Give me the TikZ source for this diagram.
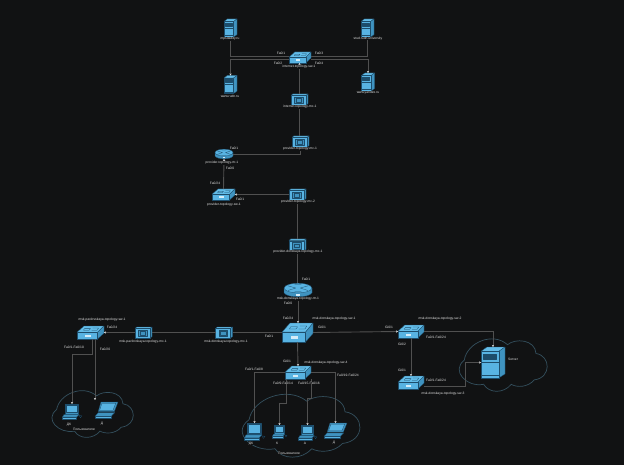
\documentclass[tikz,border=0pt]{standalone}
\usepackage{fontspec}
\setmainfont{Liberation Sans}
\usepackage{xcolor}
\usepackage{tikz}
\usetikzlibrary{arrows.meta,calc}

\definecolor{bgdark}{HTML}{111213}
\definecolor{iconfront}{HTML}{58B3E2}
\definecolor{icontop}{HTML}{63BCE8}
\definecolor{iconside}{HTML}{3F93C0}
\definecolor{iconline}{HTML}{1D4D6B}
\definecolor{linkgrey}{HTML}{505050}
\definecolor{cloudline}{HTML}{34505E}
\definecolor{textgrey}{HTML}{E2E2E2}

\tikzset{
	icon_box/.style={inner sep=0pt, outer sep=0pt, draw=none, fill=none},
	icon_part/.style={draw=iconline, line width=.3pt, line join=round},
}

% icons: name, centre x, centre y, width, height
\newcommand{\servericon}[5]{
	\node (#1) [icon_box, minimum width=#4pt, minimum height=#5pt] at (#2,#3) {};
	\begin{scope}[shift={(#1.north west)},x=#4pt,y=-#5pt]
		\fill [icon_part, fill=icontop] (0,.14) -- (.25,0) -- (1,0) -- (.74,.14) -- cycle;
		\fill [icon_part, fill=iconside] (.74,.14) -- (1,0) -- (1,.87) -- (.74,1) -- cycle;
		\fill [icon_part, fill=iconfront] (0,.14) rectangle (.74,1);
		\fill [icon_part, fill=iconline] (.08,.22) rectangle (.62,.38);
		\draw [icon_part] (0,.5) -- (.74,.5) (0,.9) -- (.74,.9);
	\end{scope}
}
\newcommand{\switchicon}[5]{
	\node (#1) [icon_box, minimum width=#4pt, minimum height=#5pt] at (#2,#3) {};
	\begin{scope}[shift={(#1.north west)},x=#4pt,y=-#5pt]
		\fill [icon_part, fill=icontop] (0,.48) -- (.26,0) -- (1,0) -- (.76,.48) -- cycle;
		\fill [icon_part, fill=iconside] (.76,.48) -- (1,0) -- (1,.55) -- (.76,1) -- cycle;
		\fill [icon_part, fill=iconfront] (0,.48) rectangle (.76,1);
		\fill [white!75!iconfront] (.3,.68) rectangle (.5,.84);
		\draw [icon_part] (.28,.2) -- (.5,.2) -- (.45,.32) -- (.24,.32) -- cycle (.58,.16) -- (.8,.16) -- (.74,.32) -- (.54,.32);
	\end{scope}
}
\newcommand{\hubicon}[5]{
	\node (#1) [icon_box, minimum width=#4pt, minimum height=#5pt] at (#2,#3) {};
	\begin{scope}[shift={(#1.north west)},x=#4pt,y=-#5pt]
		\fill [icon_part, fill=icontop] (0,.14) -- (.1,0) -- (1,0) -- (.88,.14) -- cycle;
		\fill [icon_part, fill=iconside] (.88,.14) -- (1,0) -- (1,.88) -- (.88,1) -- cycle;
		\fill [icon_part, fill=iconfront] (0,.14) rectangle (.88,1);
		\fill [icon_part, fill=iconside] (.2,.3) rectangle (.7,.85);
		\draw [icon_part] (.3,.42) rectangle (.6,.72);
	\end{scope}
}
\newcommand{\routericon}[5]{
	\node (#1) [icon_box, minimum width=#4pt, minimum height=#5pt] at (#2,#3) {};
	\begin{scope}[shift={(#1.north west)},x=#4pt,y=-#5pt]
		\fill [icon_part, fill=iconside] (0,.36) -- (0,.7) .. controls (.1,1.08) and (.9,1.08) .. (1,.7) -- (1,.36) -- cycle;
		\fill [icon_part, fill=iconfront] (0,.36) .. controls (.05,-.1) and (.95,-.1) .. (1,.36) .. controls (.95,.82) and (.05,.82) .. (0,.36) -- cycle;
		\draw [icon_part] (.14,.2) -- (.42,.36) -- (.14,.54) (.86,.2) -- (.58,.36) -- (.86,.54) (.38,.1) -- (.62,.1) (.38,.62) -- (.62,.62);
		\fill [white!75!iconfront] (.42,.8) rectangle (.58,.9);
	\end{scope}
}
\newcommand{\pcicon}[5]{
	\node (#1) [icon_box, minimum width=#4pt, minimum height=#5pt] at (#2,#3) {};
	\begin{scope}[shift={(#1.north west)},x=#4pt,y=-#5pt]
		\fill [icon_part, fill=iconside] (.16,0) -- (.82,0) -- (.82,.62) -- (.16,.62) -- cycle;
		\fill [icon_part, fill=iconfront] (.22,.08) rectangle (.76,.54);
		\fill [icon_part, fill=iconside] (.1,.66) -- (.86,.66) -- (.72,.82) -- (.02,.82) -- cycle;
		\fill [icon_part, fill=iconfront] (.02,.82) rectangle (.72,.95);
		\draw [icon_part] (.86,.72) -- (1,.74) -- (.92,.86) -- cycle;
	\end{scope}
}
\newcommand{\laptopicon}[5]{
	\node (#1) [icon_box, minimum width=#4pt, minimum height=#5pt] at (#2,#3) {};
	\begin{scope}[shift={(#1.north west)},x=#4pt,y=-#5pt]
		\fill [icon_part, fill=iconside] (.26,0) -- (1,0) -- (.84,.6) -- (.14,.6) -- cycle;
		\fill [icon_part, fill=iconfront] (.3,.08) -- (.9,.08) -- (.78,.52) -- (.2,.52) -- cycle;
		\fill [icon_part, fill=iconside] (.14,.66) -- (.86,.66) -- (.7,.9) -- (0,.9) -- cycle;
		\fill [icon_part, fill=iconfront] (0,.9) rectangle (.7,1);
	\end{scope}
}
\newcommand{\cloudicon}[5]{
	\node (#1) [icon_box, minimum width=#4pt, minimum height=#5pt] at (#2,#3) {};
	\begin{scope}[shift={(#1.north west)},x=#4pt,y=-#5pt]
		\draw [draw=cloudline, line width=.7pt] (.09,.42)
			.. controls (.12,.1) and (.4,-.1) .. (.56,.14)
			.. controls (.64,.02) and (.86,.04) .. (.87,.3)
			.. controls (1.03,.34) and (1.04,.74) .. (.85,.78)
			.. controls (.78,.92) and (.66,.92) .. (.6,.86)
			.. controls (.52,1.03) and (.36,1.03) .. (.3,.86)
			.. controls (.12,.92) and (-.06,.62) .. (.09,.42);
	\end{scope}
}

\begin{document}
\begin{tikzpicture}[x=1pt,y=-1pt]
	\tikzstyle{link}=[draw=linkgrey, line width=.9pt]
	\tikzstyle{arrow}=[link, -{Stealth[length=2pt,width=2.2pt,color=textgrey]}]
	\tikzstyle{name_text}=[inner sep=0pt, fill=bgdark, text=textgrey, font=\fontsize{3.3}{3.9}\selectfont]
	\tikzstyle{port_text}=[name_text]

	\fill [bgdark] (0,0) rectangle (624,465);
	\useasboundingbox (0,0) rectangle (624,465);

	% clouds
	\cloudicon{cloudA}{91.5}{413.5}{85}{49}
	\cloudicon{cloudB}{299.5}{425}{123}{66}
	\cloudicon{cloudC}{502}{364.5}{92}{55}

	% internet
	\servericon{srv1}{230.5}{28}{13}{18}
	\servericon{srv2}{367.5}{28}{13}{18}
	\servericon{srv3}{230.5}{84.5}{13}{18}
	\servericon{srv4}{368}{82}{13}{18}
	\switchicon{netsw}{300}{57.5}{22}{11}
	\hubicon{netmc}{299.5}{99.5}{17}{11}

	% provider
	\hubicon{provmc1}{300.5}{141.5}{17}{11}
	\routericon{provrtr}{224}{154}{18}{10}
	\switchicon{provsw}{223.5}{194.5}{23}{11}
	\hubicon{provmc2}{297.5}{194.5}{17}{11}
	\hubicon{provmc3}{297.5}{245}{17}{12}

	% donskaya
	\routericon{donrtr}{298}{290}{28}{14}
	\switchicon{donsw1}{297.5}{332.5}{31}{19}
	\switchicon{donsw2}{298}{372.5}{26}{13}
	\switchicon{donsw3}{411}{331.5}{26}{13}
	\switchicon{donsw4}{411}{382.5}{26}{13}
	\hubicon{donmc}{224}{332.5}{17}{11}
	\servericon{server}{493}{362.5}{24}{31}

	% pavlovskaya
	\hubicon{pavmc}{143.5}{332.5}{17}{11}
	\switchicon{pavsw}{90.5}{332.5}{27}{13}

	% users
	\pcicon{pcA}{72}{412}{20}{16}
	\laptopicon{lapA}{106.5}{410}{23}{16}
	\pcicon{pcB}{254.5}{432}{21}{18}
	\pcicon{pcC}{279.5}{432}{15}{14}
	\pcicon{pcD}{307.5}{433}{19}{16}
	\laptopicon{lapB}{335.5}{430.5}{23}{15}

	\coordinate (bendA1) at (92,354);
	\coordinate (endA2) at (95,400);
	\coordinate (bendB1) at (286,403);
	\coordinate (bendB2) at (311,398);
	\coordinate (bendC1) at (465,386);

	\draw [link] (srv1.south) |- ([yshift=1pt]netsw.west);
	\draw [arrow] ([yshift=-2pt]netsw.west) -| (srv3.north);
	\draw [link] (srv2.south) |- ([yshift=1pt]netsw.east);
	\draw [arrow] ([yshift=-2pt]netsw.east) -| (srv4.north);
	\draw [arrow] (netmc.north) -- (netsw.south -| netmc.north);
	\draw [link] (netmc.south) -- (provmc1.north -| netmc.south);
	\draw [link] (provmc1.south) |- (provrtr.east);
	\draw [arrow] (provsw.north) -- (provrtr.south);
	\draw [arrow] (provmc2.west) -- (provsw.east);
	\draw [link] (provmc2.south) -- (provmc3.north);
	\draw [link] (provmc3.south) -- (donrtr.north -| provmc3.south);
	\draw [arrow] (donrtr.south) -- (donsw1.north -| donrtr.south);
	\draw [arrow] (donsw1.south) -- (donsw2.north);
	\draw [link] (donsw1.west) -- (donmc.east);
	\draw [link] (donmc.west) -- (pavmc.east);
	\draw [arrow] (pavmc.west) -- (pavsw.east);
	\draw [arrow] (donsw1.east) -- (donsw3.west);
	\draw [arrow] (donsw3.south) -- (donsw4.north);
	\draw [arrow] (donsw3.east) -| (server.north);
	\draw [arrow] ([yshift=-3.5pt]donsw4.east) -- (bendC1) |- (server.west);

	\draw [arrow] ([xshift=1.5pt]pavsw.south) |- (bendA1) -| (pcA.north);
	\draw [arrow] ([xshift=4.5pt]pavsw.south) -- (endA2);
	\draw [arrow] (donsw2.west) -| (pcB.north);
	\draw [arrow] ([xshift=-12pt]donsw2.south) |- (bendB1) -| (pcC.north);
	\draw [arrow] ([xshift=13pt]donsw2.south) |- (bendB2) -| (pcD.north);
	\draw [arrow] (donsw2.east) -| (lapB.north);

	% names
	\node (name-srv1) at (230,39) [name_text] {mpsdaddy.ru};
	\node (name-srv2) at (368,38.5) [name_text] {stud.rudn.university};
	\node (name-srv3) at (230,96) [name_text] {www.rudn.ru};
	\node (name-srv4) at (368,93) [name_text] {www.yandex.ru};
	\node (name-netsw) at (299,67) [name_text] {internet-topology-sw-1};
	\node (name-netmc) at (300,107) [name_text] {internet-topology-mc-1};
	\node (name-provmc1) at (300,149) [name_text] {provider-topology-mc-1};
	\node (name-provrtr) at (222,163) [name_text] {provider-topology-rtr-1};
	\node (name-provsw) at (224,205) [name_text] {provider-topology-sw-1};
	\node (name-provmc2) at (298,202) [name_text] {provider-topology-mc-2};
	\node (name-provmc3) at (298,252) [name_text] {provider-donskaya-topology-mc-1};
	\node (name-donrtr) at (298,299) [name_text] {msk-donskaya-topology-rtr-1};
	\node (name-donsw1) at (334,319) [name_text] {msk-donskaya-topology-sw-1};
	\node (name-donsw2) at (326,363) [name_text] {msk-donskaya-topology-sw-4};
	\node (name-donsw3) at (440,319) [name_text] {msk-donskaya-topology-sw-2};
	\node (name-donsw4) at (443,394) [name_text] {msk-donskaya-topology-sw-3};
	\node (name-donmc) at (226,342) [name_text] {msk-donskaya-topology-mc-1};
	\node (name-pavmc) at (143,342) [name_text] {msk-pavlovskaya-topology-mc-1};
	\node (name-pavsw) at (102,320) [name_text] {msk-pavlovskaya-topology-sw-1};
	\node (name-server) at (513,359) [name_text] {Server};
	\node (name-cloudA) at (84,429.5) [name_text] {Пользователи};
	\node (name-cloudB) at (289,453) [name_text] {Пользователи};
	\node (name-pcA) at (69,425) [name_text] {ДК};
	\node (name-lapA) at (102,424) [name_text] {Д};
	\node (name-pcB) at (251,444) [name_text] {ДК};
	\node (name-pcC) at (277,443) [name_text] {К};
	\node (name-pcD) at (305,443) [name_text] {А};
	\node (name-lapB) at (334,443) [name_text] {Д};

	% ports
	\foreach \portname/\portx/\porty/\porttext in {
		a/281/53/{Fa0/1}, b/278/63/{Fa0/2}, c/319/53/{Fa0/3}, d/319/63/{Fa0/4},
		e/234/148/{Fa0/1}, f/230/168/{Fa0/0}, g/215/183/{Fa0/24}, h/240/199/{Fa0/1},
		i/306/279/{Fa0/1}, j/288/303/{Fa0/0}, k/288/318/{Fa0/24}, l/322/327/{Gi0/1}, m/269/336/{Fa0/1},
		n/112/327/{Fa0/24}, o/105/349/{Fa0/20}, p/389/327/{Gi0/1}, q/402/344/{Gi0/2}, r/402/370/{Gi0/1},
		s/287/361/{Gi0/1}, t/74/347/{Fa0/1-Fa0/10}, u/254/369/{Fa0/1-Fa0/8}, v/283/383/{Fa0/9-Fa0/14},
		w/309/383/{Fa0/15-Fa0/16}, x/348/375/{Fa0/19-Fa0/24}, y/436/337/{Fa0/1-Fa0/24}, z/436/380/{Fa0/1-Fa0/24}}
		\node (port-\portname) at (\portx,\porty) [port_text] {\porttext};
\end{tikzpicture}
\end{document}
